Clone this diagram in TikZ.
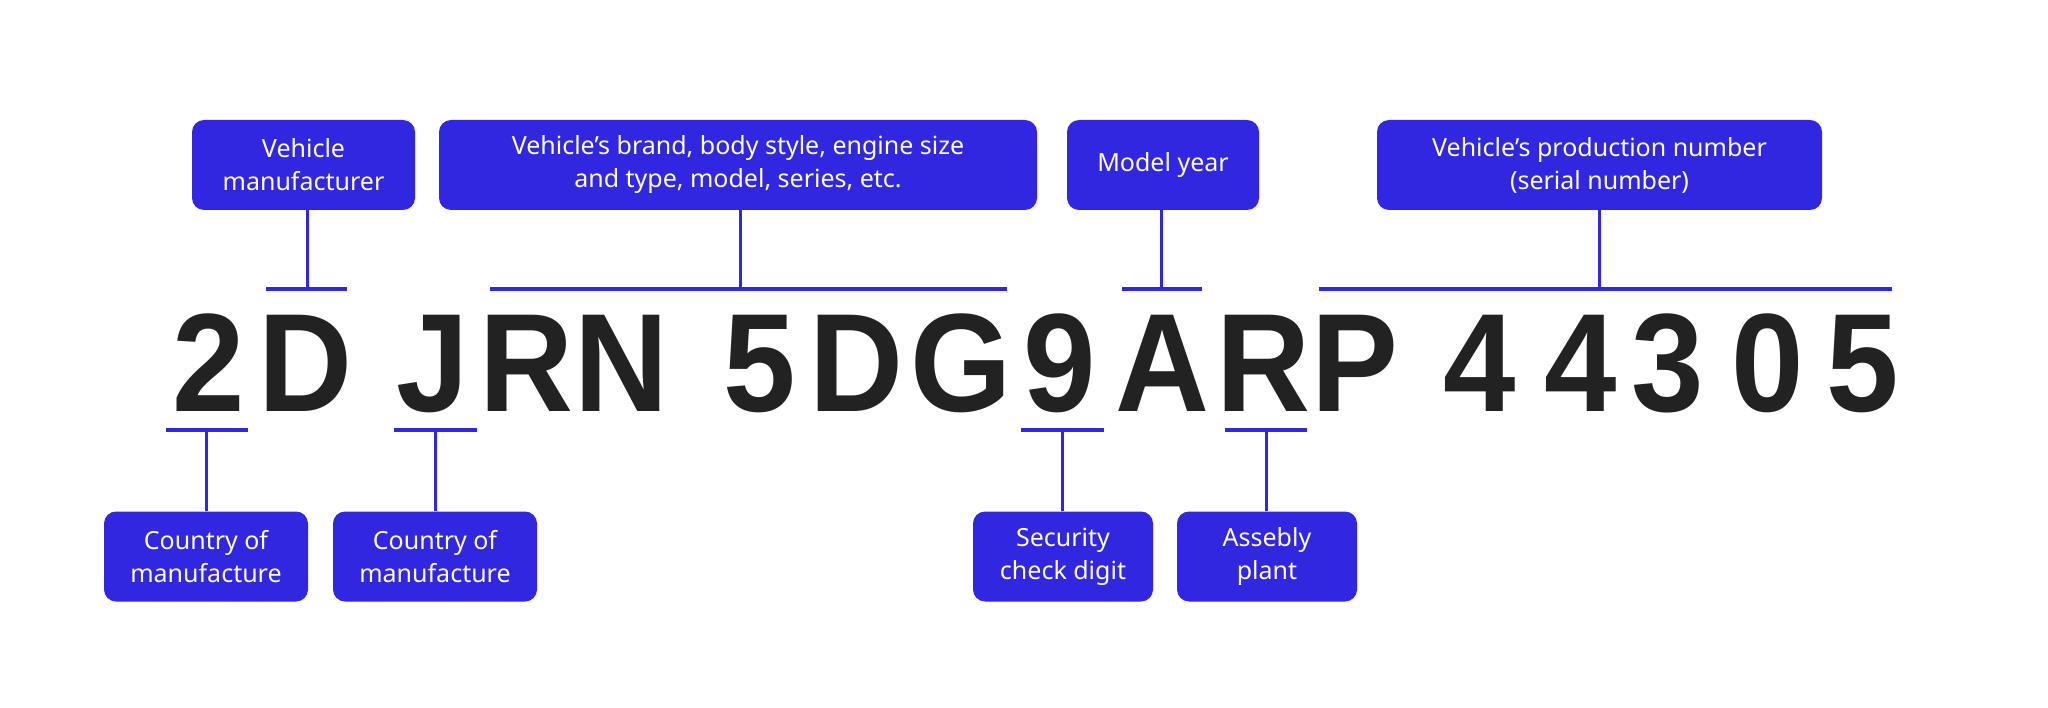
\documentclass[tikz,border=0pt]{standalone}
\usepackage{fontspec}
\setmainfont{Noto Sans}
\newfontfamily\vinfont{Liberation Sans}[UprightFont={* Bold}, FakeStretch=0.93]
\definecolor{vinblue}{HTML}{3127E0}
\definecolor{vinink}{HTML}{222222}
\tikzset{
  lbl/.style={fill=vinblue, rounded corners=12pt, text=white, align=center,
    font=\fontsize{25}{33}\selectfont, inner sep=0pt, minimum height=90pt},
  ch/.style={anchor=base, inner sep=0pt, text=vinink, font=\vinfont\fontsize{140}{140}\selectfont},
  stem/.style={draw=vinblue, line width=3pt},
  bar/.style={draw=vinblue, line width=4pt},
}
\begin{document}
\begin{tikzpicture}[x=1pt,y=-1pt]
\useasboundingbox (0,0) rectangle (2048,708);
% VIN characters
\node[ch] (l1) at (209,412) {2};
\node[ch] (l2) at (306,412) {D};
\node[ch] (l3) at (433,412) {J};
\node[ch] (l4) at (527,412) {R};
\node[ch] (l5) at (622,412) {N};
\node[ch] (l6) at (760,412) {5};
\node[ch] (l7) at (857,412) {D};
\node[ch] (l8) at (961,412) {G};
\node[ch] (l9) at (1060,412) {9};
\node[ch] (l10) at (1162,412) {A};
\node[ch] (l11) at (1263,412) {R};
\node[ch] (l12) at (1355,412) {P};
\node[ch] (l13) at (1480,412) {4};
\node[ch] (l14) at (1581,412) {4};
\node[ch] (l15) at (1668,412) {3};
\node[ch] (l16) at (1768,412) {0};
\node[ch] (l17) at (1863,412) {5};
% top labels
\node[lbl, minimum width=223pt] (vm) at (303.5,165) {Vehicle\\manufacturer};
\node[lbl, minimum width=598pt] (brand) at (738,165) {Vehicle’s brand, body style, engine size\\and type, model, series, etc.};
\node[lbl, minimum width=192pt] (my) at (1163,165) {Model year};
\node[lbl, minimum width=445pt] (prod) at (1599.5,165) {Vehicle’s production number\\(serial number)};
% bottom labels
\node[lbl, minimum width=204pt] (c1) at (206,556.5) {Country of\\manufacture};
\node[lbl, minimum width=204pt] (c2) at (435,556.5) {Country of\\manufacture};
\node[lbl, minimum width=180pt] (sec) at (1063,556.5) {Security\\check digit};
\node[lbl, minimum width=180pt] (asm) at (1267,556.5) {Assebly\\plant};
% bar coordinates (top)
\coordinate (vmb) at (307,289);
\coordinate (vmL) at (266,289); \coordinate (vmR) at (347,289);
\coordinate (brb) at (740,289);
\coordinate (brL) at (490,289); \coordinate (brR) at (1007,289);
\coordinate (myb) at (1161,289);
\coordinate (myL) at (1122,289); \coordinate (myR) at (1202,289);
\coordinate (prb) at (1599,289);
\coordinate (prL) at (1319,289); \coordinate (prR) at (1892,289);
% bar coordinates (bottom)
\coordinate (c1b) at (206,430);
\coordinate (c1L) at (166,430); \coordinate (c1R) at (248,430);
\coordinate (c2b) at (435,430);
\coordinate (c2L) at (394,430); \coordinate (c2R) at (477,430);
\coordinate (secb) at (1062,430);
\coordinate (secL) at (1021,430); \coordinate (secR) at (1104,430);
\coordinate (asmb) at (1266,430);
\coordinate (asmL) at (1225,430); \coordinate (asmR) at (1307,430);
% stems
\draw[stem] (vm.south -| vmb) -- (vmb);
\draw[stem] (brand.south -| brb) -- (brb);
\draw[stem] (my.south -| myb) -- (myb);
\draw[stem] (prod.south -| prb) -- (prb);
\draw[stem] (c1.north -| c1b) -- (c1b);
\draw[stem] (c2.north -| c2b) -- (c2b);
\draw[stem] (sec.north -| secb) -- (secb);
\draw[stem] (asm.north -| asmb) -- (asmb);
% bars
\draw[bar] (vmL) -- (vmR);
\draw[bar] (brL) -- (brR);
\draw[bar] (myL) -- (myR);
\draw[bar] (prL) -- (prR);
\draw[bar] (c1L) -- (c1R);
\draw[bar] (c2L) -- (c2R);
\draw[bar] (secL) -- (secR);
\draw[bar] (asmL) -- (asmR);
\end{tikzpicture}
\end{document}
